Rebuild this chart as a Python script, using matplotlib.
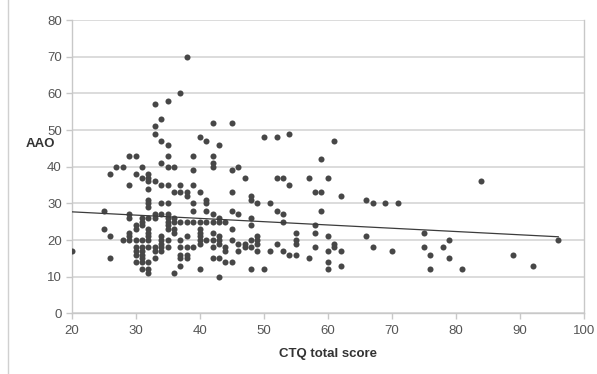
import matplotlib
matplotlib.use("Agg")
import matplotlib.pyplot as plt
from matplotlib.lines import Line2D

# CTQ total score (x) vs age at onset (y).
# One line per CTQ column; the two lists line up line by line.
CTQ = [
    20,
    25, 25,
    26, 26, 26,
    27,
    28, 28,
    29, 29, 29, 29, 29, 29, 29,
    30, 30, 30, 30, 30, 30, 30, 30, 30,
    31, 31, 31, 31, 31, 31, 31, 31, 31, 31, 31, 31,
    32, 32, 32, 32, 32, 32, 32, 32, 32, 32, 32, 32, 32, 32, 32, 32,
    33, 33, 33, 33, 33, 33, 33, 33, 33,
    34, 34, 34, 34, 34, 34, 34, 34, 34, 34, 34,
    35, 35, 35, 35, 35, 35, 35, 35, 35, 35, 35, 35, 35,
    36, 36, 36, 36, 36, 36, 36,
    37, 37, 37, 37, 37, 37, 37, 37, 37,
    38, 38, 38, 38, 38, 38, 38, 38,
    39, 39, 39, 39, 39, 39, 39,
    40, 40, 40, 40, 40, 40, 40, 40, 40,
    41, 41, 41, 41, 41, 41,
    42, 42, 42, 42, 42, 42, 42, 42, 42, 42,
    43, 43, 43, 43, 43, 43, 43, 43,
    44, 44, 44, 44,
    45, 45, 45, 45, 45, 45, 45,
    46, 46, 46, 46,
    47, 47, 47,
    48, 48, 48, 48, 48, 48, 48,
    49, 49, 49, 49, 49,
    50, 50,
    51, 51,
    52, 52, 52, 52,
    53, 53, 53, 53,
    54, 54, 54,
    55, 55, 55, 55,
    57, 57,
    58, 58, 58, 58,
    59, 59, 59,
    60, 60, 60, 60, 60,
    61, 61, 61,
    62, 62, 62,
    66, 66,
    67, 67,
    69,
    70,
    71,
    75, 75,
    76, 76,
    78,
    79, 79,
    81,
    84,
    89,
    92,
    96,
]
AAO = [
    17,
    28, 23,
    38, 21, 15,
    40,
    40, 20,
    35, 43, 27, 26, 22, 21, 20,
    43, 38, 24, 23, 20, 18, 17, 16, 14,
    40, 37, 26, 25, 24, 20, 18, 17, 15, 16, 14, 12,
    38, 37, 36, 34, 31, 30, 29, 26, 23, 22, 21, 20, 18, 14, 12, 11,
    57, 51, 49, 36, 27, 26, 18, 17, 15,
    53, 47, 41, 35, 30, 27, 21, 20, 19, 18, 17,
    58, 46, 43, 40, 35, 30, 27, 26, 25, 24, 23, 20, 18,
    40, 26, 25, 23, 22, 33, 11,
    60, 35, 33, 25, 20, 18, 16, 15, 13,
    70, 33, 32, 25, 21, 18, 16, 15,
    43, 39, 35, 30, 28, 25, 18,
    48, 33, 25, 23, 22, 21, 20, 19, 12,
    47, 31, 30, 28, 25, 20,
    52, 43, 41, 40, 27, 25, 22, 20, 18, 15,
    46, 26, 25, 21, 20, 19, 15, 10,
    25, 18, 17, 14,
    52, 39, 33, 28, 23, 20, 14,
    40, 27, 19, 17,
    37, 19, 18,
    32, 31, 26, 24, 20, 18, 12,
    30, 21, 20, 19, 17,
    48, 12,
    30, 17,
    48, 37, 28, 19,
    37, 27, 25, 17,
    49, 35, 16,
    22, 20, 19, 16,
    37, 15,
    33, 24, 22, 18,
    42, 33, 28,
    37, 21, 17, 14, 12,
    47, 19, 18,
    32, 17, 13,
    31, 21,
    30, 18,
    30,
    17,
    30,
    22, 18,
    16, 12,
    18,
    20, 15,
    12,
    36,
    16,
    13,
    20,
]

# fitted trend line end points as drawn
TREND_X = [20, 96]
TREND_Y = [27.7, 20.9]

X_TICKS = [20, 30, 40, 50, 60, 70, 80, 90, 100]
Y_TICKS = [0, 10, 20, 30, 40, 50, 60, 70, 80]

GRID, FRAME, DOT, TXT = "#d9d9d9", "#c8c8c8", "#474747", "#555555"

plt.rcParams["font.family"] = ["Liberation Sans", "DejaVu Sans"]

fig = plt.figure(figsize=(5.97, 3.74), dpi=100)
ax = fig.add_axes([0.120, 0.162, 0.858, 0.7845])

ax.scatter(CTQ, AAO, s=19, color=DOT, linewidths=0, zorder=3)
ax.plot(TREND_X, TREND_Y, color="#3c3c3c", lw=0.9, zorder=4)

ax.set_xlim(20, 100)
ax.set_ylim(0, 80)
ax.set_xticks(X_TICKS)
ax.set_yticks(Y_TICKS)
ax.yaxis.grid(True, color=GRID, lw=1.3)
ax.set_axisbelow(True)
for s in ax.spines.values():
    s.set_color(FRAME)
    s.set_linewidth(1.0)
ax.spines["top"].set_visible(False)
ax.tick_params(axis="both", colors=FRAME, labelcolor=TXT, labelsize=9.5,
               length=4, width=1.0)
ax.tick_params(axis="x", pad=4)
ax.tick_params(axis="y", pad=3)

ax.set_xlabel("CTQ total score", fontsize=9.5, fontweight="bold",
              color="#333333", labelpad=8)
fig.text(0.068, 0.615, "AAO", fontsize=9.5, fontweight="bold",
         color="#333333", ha="center", va="center")

# faint chart-area border at the left
fig.add_artist(Line2D([0.0135, 0.0135], [0.0, 1.0], color="#d0d0d0", lw=1.0))

fig.savefig("out.png", dpi=100)
